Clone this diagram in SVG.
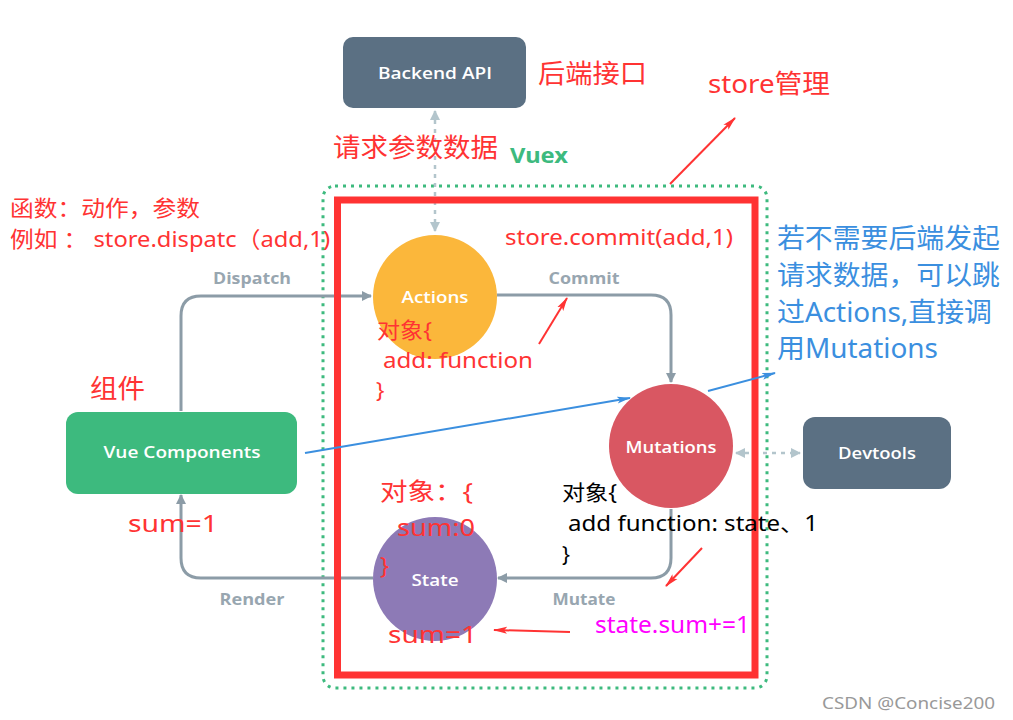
<svg xmlns="http://www.w3.org/2000/svg" width="1013" height="720" viewBox="0 0 1013 720">
<style>
text{font-family:"Noto Sans","Noto Sans CJK SC",sans-serif}
.lbl{font-family:"Open Sans","Lato",sans-serif;font-weight:600;fill:#fff;font-size:16px;text-anchor:middle}
.edge{font-family:"Open Sans","Lato",sans-serif;font-weight:700;fill:#98a6b0;font-size:16px;text-anchor:middle}
.flow{fill:none;stroke:#8c9ca7;stroke-width:3}
.dot{fill:none;stroke:#b3c5cc;stroke-width:2.5;stroke-dasharray:4 5}
.red{fill:#ff3333}
.blk{fill:#000}
.blue{fill:#3b8fdf;font-size:27px}
.ra{stroke:#ff3333;stroke-width:2;fill:none}
.ba{stroke:#3b8fdf;stroke-width:2;fill:none}
</style>
<defs>
<marker id="ag" markerWidth="10" markerHeight="10" refX="9" refY="5" orient="auto" markerUnits="userSpaceOnUse"><path d="M0,0 L10,5 L0,10 z" fill="#8c9ca7"/></marker>
<marker id="al" markerWidth="10" markerHeight="10" refX="9" refY="5" orient="auto-start-reverse" markerUnits="userSpaceOnUse"><path d="M0,0 L10,5 L0,10 z" fill="#b3c5cc"/></marker>
<marker id="ar" markerWidth="14" markerHeight="8" refX="13" refY="4" orient="auto" markerUnits="userSpaceOnUse"><path d="M0,0.5 L14,4 L0,7.5 L3,4 z" fill="#ff3333"/></marker>
<marker id="ab" markerWidth="14" markerHeight="8" refX="13" refY="4" orient="auto" markerUnits="userSpaceOnUse"><path d="M0,0.5 L14,4 L0,7.5 L3,4 z" fill="#3b8fdf"/></marker>
</defs>
<rect width="1013" height="720" fill="#fff"/>

<rect x="323" y="186" width="444" height="502" rx="12" fill="none" stroke="#3dba7e" stroke-width="3" stroke-dasharray="3 5"/>
<text x="510" y="163" font-family="Open Sans,Lato,sans-serif" font-weight="700" font-size="21" fill="#3dba7e" textLength="58" lengthAdjust="spacingAndGlyphs">Vuex</text>

<g id="connectors">
<path class="flow" d="M181,411 V316 Q181,296 201,296 H371" marker-end="url(#ag)"/>
<path class="flow" d="M497,295 H651 Q671,295 671,315 V382" marker-end="url(#ag)"/>
<path class="flow" d="M671,509 V558 Q671,578 651,578 H498" marker-end="url(#ag)"/>
<path class="flow" d="M373,578 H201 Q181,578 181,558 V495" marker-end="url(#ag)"/>
<path class="dot" d="M435,111 V231" marker-start="url(#al)" marker-end="url(#al)"/>
<path class="dot" d="M736,453 H800" marker-start="url(#al)" marker-end="url(#al)"/>
</g>
<text class="edge" x="252" y="284" textLength="78" lengthAdjust="spacingAndGlyphs">Dispatch</text>
<text class="edge" x="584" y="284" textLength="71" lengthAdjust="spacingAndGlyphs">Commit</text>
<text class="edge" x="584" y="605" textLength="63" lengthAdjust="spacingAndGlyphs">Mutate</text>
<text class="edge" x="252" y="605" textLength="65" lengthAdjust="spacingAndGlyphs">Render</text>

<g id="backend"><rect x="343" y="37" width="183" height="71" rx="10" fill="#5b7083"/><text class="lbl" x="435" y="79" textLength="114" lengthAdjust="spacingAndGlyphs">Backend API</text></g>
<g id="actions"><circle cx="435" cy="297" r="62" fill="#fbb73b"/><text class="lbl" x="435" y="303" textLength="67" lengthAdjust="spacingAndGlyphs">Actions</text></g>
<g id="mutations"><circle cx="671" cy="446" r="62" fill="#d95762"/><text class="lbl" x="671" y="453" textLength="91" lengthAdjust="spacingAndGlyphs">Mutations</text></g>
<g id="state"><circle cx="435" cy="579" r="62" fill="#8d7ab6"/><text class="lbl" x="435" y="586" textLength="47" lengthAdjust="spacingAndGlyphs">State</text></g>
<g id="vue"><rect x="66" y="412" width="231" height="82" rx="12" fill="#3dba7e"/><text class="lbl" x="182" y="458" textLength="157" lengthAdjust="spacingAndGlyphs">Vue Components</text></g>
<g id="devtools"><rect x="803" y="417" width="148" height="72" rx="12" fill="#5b7083"/><text class="lbl" x="877" y="459" textLength="78" lengthAdjust="spacingAndGlyphs">Devtools</text></g>

<rect x="337.5" y="200" width="417.5" height="475" fill="none" stroke="#ff3333" stroke-width="7"/>

<g id="annotations">
<line class="ra" x1="670" y1="184" x2="735" y2="118" marker-end="url(#ar)"/>
<line class="ra" x1="539" y1="344" x2="567" y2="298" marker-end="url(#ar)"/>
<line class="ra" x1="702" y1="548" x2="666" y2="586" marker-end="url(#ar)"/>
<line class="ra" x1="570" y1="632" x2="494" y2="630" marker-end="url(#ar)"/>
<line class="ba" x1="305" y1="453" x2="630" y2="398" marker-end="url(#ab)"/>
<line class="ba" x1="708" y1="391" x2="775" y2="373" marker-end="url(#ab)"/>
</g>

<text class="red" x="538" y="83" font-size="26" textLength="109" lengthAdjust="spacingAndGlyphs">后端接口</text>
<text class="red" x="708" y="93" font-size="26" textLength="122" lengthAdjust="spacingAndGlyphs">store管理</text>
<text class="red" x="333" y="157" font-size="26" textLength="165" lengthAdjust="spacingAndGlyphs">请求参数数据</text>
<text class="red" x="10" y="216" font-size="22" textLength="190" lengthAdjust="spacingAndGlyphs">函数：动作，参数</text>
<text class="red" x="10" y="247" font-size="22" textLength="320" lengthAdjust="spacingAndGlyphs">例如 ： store.dispatc（add,1)</text>
<text class="red" x="505" y="245" font-size="22" textLength="228" lengthAdjust="spacingAndGlyphs">store.commit(add,1)</text>
<text class="red" x="377" y="338" font-size="22" textLength="55" lengthAdjust="spacingAndGlyphs">对象{</text>
<text class="red" x="383" y="368" font-size="22" textLength="150" lengthAdjust="spacingAndGlyphs">add: function</text>
<text class="red" x="376" y="398" font-size="22">}</text>
<text class="red" x="90" y="398" font-size="26" textLength="55" lengthAdjust="spacingAndGlyphs">组件</text>
<text class="red" x="128" y="532" font-size="24" textLength="90" lengthAdjust="spacingAndGlyphs">sum=1</text>
<text class="red" x="380" y="500" font-size="24" textLength="93" lengthAdjust="spacingAndGlyphs">对象：{</text>
<text class="red" x="397" y="536" font-size="24" textLength="78" lengthAdjust="spacingAndGlyphs">sum:0</text>
<text class="red" x="380" y="574" font-size="24">}</text>
<text class="red" x="388" y="643" font-size="24" textLength="89" lengthAdjust="spacingAndGlyphs">sum=1</text>
<text class="blk" x="562" y="500" font-size="21" textLength="55" lengthAdjust="spacingAndGlyphs">对象{</text>
<text class="blk" x="568" y="531" font-size="21" textLength="250" lengthAdjust="spacingAndGlyphs">add function: state、1</text>
<text class="blk" x="562" y="562" font-size="21">}</text>
<text x="595" y="633" font-size="23" fill="#ff00ff" textLength="155" lengthAdjust="spacingAndGlyphs">state.sum+=1</text>
<text class="blue" x="777" y="248" textLength="223" lengthAdjust="spacingAndGlyphs">若不需要后端发起</text>
<text class="blue" x="777" y="285" textLength="223" lengthAdjust="spacingAndGlyphs">请求数据，可以跳</text>
<text class="blue" x="777" y="322" textLength="215" lengthAdjust="spacingAndGlyphs">过Actions,直接调</text>
<text class="blue" x="777" y="358" textLength="161" lengthAdjust="spacingAndGlyphs">用Mutations</text>
<text x="822" y="709" font-family="Liberation Sans,Arial,sans-serif" font-size="16" fill="#999" textLength="173" lengthAdjust="spacingAndGlyphs">CSDN @Concise200</text>
</svg>
